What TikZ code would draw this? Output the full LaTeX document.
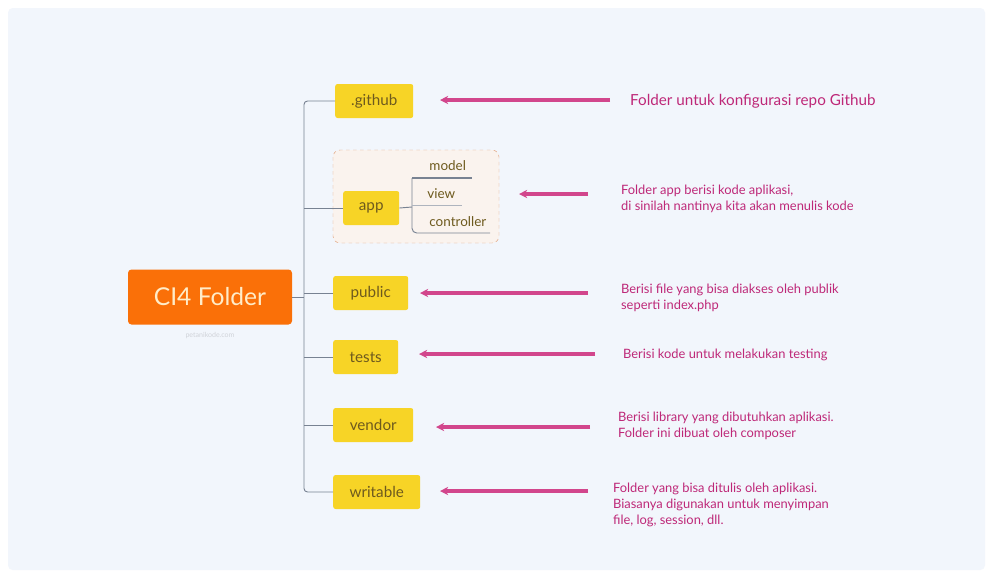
\documentclass[tikz,border=0pt]{standalone}
\usepackage{fontspec}
\setmainfont{Lato}
\usepackage{tikz}
\usetikzlibrary{arrows.meta, positioning, calc}
\definecolor{bgpanel}{RGB}{242, 246, 252}
\definecolor{rootorange}{RGB}{250, 112, 8}
\definecolor{roottext}{RGB}{255, 236, 200}
\definecolor{leafyellow}{RGB}{247, 212, 38}
\definecolor{leaftext}{RGB}{110, 90, 30}
\definecolor{trunkgray}{RGB}{120, 130, 146}
\definecolor{notepink}{RGB}{210, 70, 140}
\definecolor{notetext}{RGB}{190, 40, 120}
\definecolor{groupline}{RGB}{225, 160, 120}
\definecolor{groupfill}{RGB}{250, 243, 238}

\begin{document}
\begin{tikzpicture}[x=0.03cm, y=-0.03cm,
    leaf/.style={fill=leafyellow, rounded corners=2pt, minimum height=34*0.03cm,
      anchor=west, text=leaftext, font=\fontsize{13}{15}\selectfont},
    note/.style={anchor=west, align=left, text=notetext,
      font=\fontsize{11}{13.6}\selectfont},
    notearrow/.style={draw=notepink, line width=2.6pt, -{Stealth[length=7pt, width=7pt]}},
    branch/.style={draw=trunkgray, line width=0.8pt},
    sub/.style={text=leaftext, font=\fontsize{11.5}{13}\selectfont, inner sep=1pt, anchor=west}]
  % Background
  \useasboundingbox (0,0) rectangle (993,577);
  \fill[white] (0,0) rectangle (993,577);
  \fill[bgpanel, rounded corners=4pt] (8,8) rectangle (985,570);

  % Root
  \node[fill=rootorange, rounded corners=3pt, minimum width=164*0.03cm,
    minimum height=55*0.03cm, text=roottext, font=\fontsize{21}{23}\selectfont]
    (root) at (210,297) {CI4 Folder};
  \node[text=trunkgray!35, font=\fontsize{6}{7}\selectfont, below=3pt of root]
    (mark) {petanikode.com};

  % App group box
  \draw[groupline, dashed, fill=groupfill, rounded corners=6pt]
    (333,150) rectangle (499,243);

  % Folders
  \node[leaf, minimum width=78*0.03cm] (github)   at (335,101) {.github};
  \node[leaf, minimum width=56*0.03cm] (app)      at (343,208) {app};
  \node[leaf, minimum width=75*0.03cm] (public)   at (333,293) {public};
  \node[leaf, minimum width=65*0.03cm] (tests)    at (333,357) {tests};
  \node[leaf, minimum width=80*0.03cm] (vendor)   at (333,425) {vendor};
  \node[leaf, minimum width=87*0.03cm] (writable) at (333,492) {writable};

  % Trunk
  \coordinate (top) at (304,101);
  \coordinate (bot) at (304,492);
  \draw[branch] (root.east) -- (root.east -| top);
  \draw[branch, rounded corners=3pt] (github.west) -- (top) -- (bot) -- (writable.west);
  \foreach \f in {app, public, tests, vendor}
    \draw[branch] (\f.west) -- (\f.west -| top);

  % App sub folders
  \node[sub] (model)      at (428,166) {model};
  \node[sub] (view)       at (426,194) {view};
  \node[sub] (controller) at (428,222) {controller};
  \coordinate (split) at (412,207);
  \draw[branch] (app.east) -- (split);
  \draw[branch, rounded corners=4pt] (412,178) -- (412,233) -- (490,233);
  \draw[branch, line width=1.2pt] (412,178) -- (472,178);
  \draw[branch, draw=trunkgray!60] (412,205) -- (462,205);

  % Notes
  \node[note, font=\fontsize{13}{15}\selectfont] (ngithub) at (626,101)
    {Folder untuk konfigurasi repo Github};
  \node[note] (napp) at (617,199)
    {Folder app berisi kode aplikasi,\\di sinilah nantinya kita akan menulis kode};
  \node[note] (npublic) at (617,298)
    {Berisi file yang bisa diakses oleh publik\\seperti index.php};
  \node[note] (ntests) at (619,355) {Berisi kode untuk melakukan testing};
  \node[note] (nvendor) at (614,426)
    {Berisi library yang dibutuhkan aplikasi.\\Folder ini dibuat oleh composer};
  \node[note] (nwritable) at (609,505)
    {Folder yang bisa ditulis oleh aplikasi.\\Biasanya digunakan untuk menyimpan\\file, log, session, dll.};

  % Arrows
  \coordinate (sgithub) at (610,100);   \coordinate (agithub) at (440,100);
  \coordinate (sapp) at (588,194);      \coordinate (aapp) at (519,194);
  \coordinate (spublic) at (588,293);   \coordinate (apublic) at (420,293);
  \coordinate (stests) at (595,354);    \coordinate (atests) at (419,354);
  \coordinate (svendor) at (590,427);   \coordinate (avendor) at (436,427);
  \coordinate (swritable) at (588,491); \coordinate (awritable) at (440,491);
  \foreach \f in {github, app, public, tests, vendor, writable}
    \draw[notearrow] (s\f) -- (a\f);
\end{tikzpicture}
\end{document}
